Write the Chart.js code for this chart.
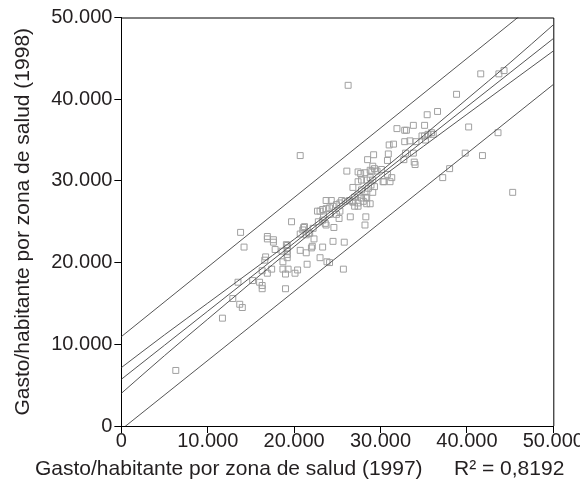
<!DOCTYPE html>
<html>
<head>
<meta charset="utf-8">
<script src="https://cdn.jsdelivr.net/npm/chart.js@4/dist/chart.umd.min.js"></script>
<style>
  html, body { margin: 0; padding: 0; background: #fff; overflow: hidden; }
  #wrap { width: 586px; height: 489px; }
</style>
</head>
<body>
<div id="wrap"><canvas id="chart" width="586" height="489"></canvas></div>
<script>
// axis ticks
const axisTicks = [0, 10000, 20000, 30000, 40000, 50000];
const tickLabels = ['0', '10.000', '20.000', '30.000', '40.000', '50.000'];

const xTitle = 'Gasto/habitante por zona de salud (1997)';
const yTitle = 'Gasto/habitante por zona de salud (1998)';
const rSquared = 'R\u00B2 = 0,8192';

// zonas de salud: gasto 1997 vs 1998
const gasto1997 = [
  6300, 11700, 12900, 13500, 13700, 14000, 13800, 14200, 15200, 16000,
  16300, 16300, 16300, 16900, 17400, 16700, 16900, 16900, 17600, 17600,
  17800, 18600, 18700, 18700, 19000, 19300, 19000, 19200, 19200, 19200,
  19200, 19200, 19700, 20100, 20400, 20700, 20700, 21100, 21400, 21500,
  21700, 22000, 22100, 22300, 23000, 23300, 23800, 24100, 24500, 24600,
  25200, 25700, 25800, 26500, 27400, 28200, 28300, 28800, 22700, 23000,
  23300, 23700, 24100, 24500, 24900, 25300, 25900, 26400, 26800, 27000,
  25300, 24900, 24100, 23400, 23700, 22800, 23300, 21200, 21000, 22200,
  21800, 21400, 23600, 16600, 19100,
  26250, 41600, 43700, 44300, 38800, 36600, 35400, 40200, 43600, 31900,
  32800, 33000, 33800, 35100, 20700, 31000, 31500, 32800, 33400, 34100,
  34800, 35100, 35500, 35900, 36100, 29200, 30900, 28500, 30800, 29100,
  29000, 26100, 27400, 27700, 28200, 28800, 29300, 29600, 30100, 30800,
  32900, 33800, 39800, 41800, 32700, 33900, 34000, 38000, 37200, 45300,
  30400, 31300, 27400, 27800, 28400, 28800, 29100, 28900, 29300, 28600,
  29100, 26800, 27800, 28200, 27400, 27000, 27800, 28400, 28000, 27400,
  26800, 28400, 28300, 23700, 24300, 25500, 30300, 31100, 35200
];
const gasto1998 = [
  6800, 13200, 15600, 17600, 14900, 14500, 23700, 21900, 17800, 17600,
  17200, 16800, 19000, 18700, 19200, 20700, 23200, 22900, 22800, 22500,
  21600, 21400, 20100, 19200, 18600, 19200, 16800, 20600, 21000, 21400,
  21800, 22100, 25000, 18700, 19100, 21500, 23500, 24300, 21200, 19800,
  23600, 21800, 22000, 22900, 20600, 21900, 20100, 20000, 22600, 24300,
  25400, 19200, 22500, 25600, 26900, 24600, 25600, 27200, 26300, 26300,
  26500, 26600, 26700, 26900, 27100, 27300, 27500, 27600, 27400, 26900,
  26300, 25900, 25900, 25600, 24600, 25000, 25200, 24400, 24000, 24200,
  23600, 23400, 24800, 20300, 22200,
  41700, 43100, 43100, 43500, 40600, 38500, 38100, 36600, 35900, 36400,
  36200, 36200, 36800, 36800, 33100, 34400, 34500, 34800, 34900, 34800,
  35500, 35500, 35700, 35900, 35700, 33200, 33300, 32600, 32500, 31800,
  31200, 31200, 31100, 30900, 31000, 31300, 31500, 31200, 31400, 30800,
  33400, 33400, 33400, 33100, 32600, 32300, 32000, 31500, 30400, 28600,
  29900, 30400, 29900, 30100, 30100, 30400, 30100, 29500, 29300, 29100,
  28600, 29200, 28900, 28700, 28300, 28000, 27900, 27900, 27500, 27300,
  27500, 27200, 28000, 27600, 27600, 27600, 29900, 29900, 35000
];

// fitted line and 95% bands, read at these x positions
const fitX = [0, 5000, 10000, 15000, 20000, 25000, 30000, 35000, 40000, 45000, 50000];
const fitY = [5720, 9890, 14060, 18230, 22400, 26570, 30740, 34910, 39080, 43250, 47420];
const meanUpper = [7150, 11160, 15040, 18930, 22850, 26870, 31140, 35560, 40010, 44470, 49100];
const meanLower = [4000, 8620, 13080, 17530, 21950, 26270, 30340, 34260, 38150, 42030, 45900];
const predX = [0, 50000];
const predUpper = [10940, 53500];
const predLower = [-420, 41800];

const FONT = '"Liberation Sans", Arial, Helvetica, sans-serif';
const TEXT = '#231f20';
const LINE = '#555555';

const toXY = (xs, ys) => xs.map((x, i) => ({ x: x, y: ys[i] }));

function lineSet(xs, ys) {
  return {
    type: 'line',
    data: toXY(xs, ys),
    borderColor: LINE,
    borderWidth: 1,
    pointRadius: 0,
    fill: false,
    cubicInterpolationMode: 'monotone'
  };
}

const frameAndTitle = {
  id: 'frameAndTitle',
  afterDraw(chart) {
    const { ctx, chartArea } = chart;
    ctx.save();
    ctx.strokeStyle = '#000';
    ctx.lineWidth = 1;
    ctx.beginPath();
    ctx.moveTo(chartArea.left, chartArea.top + 0.5);
    ctx.lineTo(chartArea.right + 0.5, chartArea.top + 0.5);
    ctx.lineTo(chartArea.right + 0.5, chartArea.bottom);
    ctx.stroke();

    ctx.fillStyle = TEXT;
    ctx.font = 'normal 21px ' + FONT;
    ctx.textBaseline = 'middle';
    ctx.textAlign = 'left';
    ctx.fillText(xTitle, 35, 469);
    ctx.fillText(rSquared, 454, 469);
    ctx.restore();
  }
};

const tickLabel = v => {
  const i = axisTicks.indexOf(v);
  return i >= 0 ? tickLabels[i] : '';
};

new Chart(document.getElementById('chart'), {
  type: 'scatter',
  data: {
    datasets: [
      lineSet(predX, predUpper),
      lineSet(fitX, meanUpper),
      lineSet(fitX, fitY),
      lineSet(fitX, meanLower),
      lineSet(predX, predLower),
      {
        type: 'scatter',
        data: toXY(gasto1997, gasto1998),
        pointStyle: 'rect',
        pointRadius: 4.2,
        pointBorderWidth: 1,
        pointBorderColor: '#a0a0a0',
        pointBackgroundColor: 'rgba(255,255,255,0)'
      }
    ]
  },
  options: {
    responsive: false,
    animation: false,
    layout: { padding: { left: 11, top: 17.5, right: 32.7, bottom: 40 } },
    plugins: { legend: { display: false }, tooltip: { enabled: false } },
    scales: {
      x: {
        type: 'linear',
        min: 0,
        max: 50000,
        afterBuildTicks: s => { s.ticks = axisTicks.map(v => ({ value: v })); },
        ticks: {
          callback: tickLabel,
          maxRotation: 0,
          autoSkip: false,
          padding: 0,
          color: TEXT,
          font: { family: FONT, size: 20, weight: 'normal', lineHeight: 0.8 }
        },
        grid: { drawOnChartArea: false, drawTicks: true, tickLength: 7, color: '#000' },
        border: { display: true, color: '#000', width: 1 }
      },
      y: {
        type: 'linear',
        min: 0,
        max: 50000,
        afterBuildTicks: s => { s.ticks = axisTicks.map(v => ({ value: v })); },
        ticks: {
          callback: tickLabel,
          padding: 2,
          color: TEXT,
          font: { family: FONT, size: 20, weight: 'normal', lineHeight: 1 }
        },
        grid: { drawOnChartArea: false, drawTicks: true, tickLength: 7, color: '#000' },
        border: { display: true, color: '#000', width: 1 },
        title: {
          display: true,
          text: yTitle,
          color: TEXT,
          padding: { top: 0, bottom: 13 },
          font: { family: FONT, size: 21, weight: 'normal', lineHeight: 1.2 }
        }
      }
    }
  },
  plugins: [frameAndTitle]
});
</script>
</body>
</html>
